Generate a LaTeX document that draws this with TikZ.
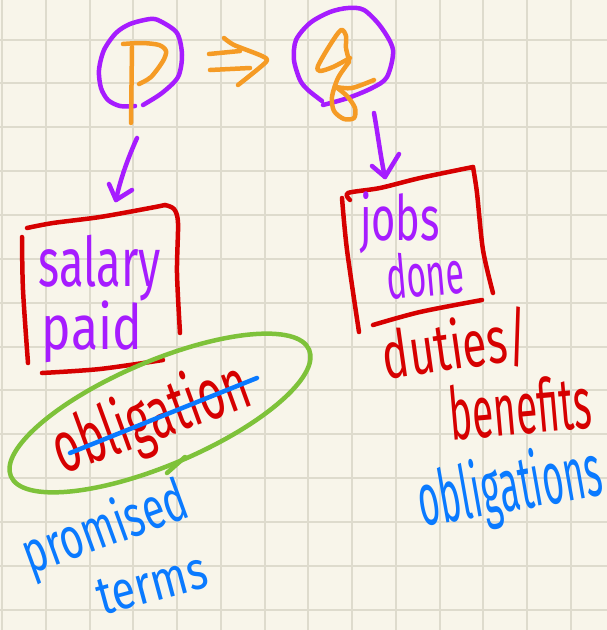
\documentclass[tikz,border=0pt]{standalone}
\usepackage{fontspec}
\setmainfont{Fira Sans}
\usepackage{graphicx}
\definecolor{bgc}{RGB}{248,245,234}
\definecolor{gridc}{RGB}{222,219,205}
\definecolor{pur}{RGB}{166,28,255}
\definecolor{ora}{RGB}{245,155,37}
\definecolor{rd}{RGB}{214,0,0}
\definecolor{blu}{RGB}{10,122,255}
\definecolor{grn}{RGB}{126,194,58}
\newcommand{\handtxt}[3]{\resizebox*{#1}{#2}{#3}}
\begin{document}
\begin{tikzpicture}[x=1pt,y=-1pt,line cap=round,line join=round,
  pen/.style={line width=4.5pt},
  hand/.style={inner sep=0pt,outer sep=0pt}]
\useasboundingbox (0,0) rectangle (607,630);
\fill[bgc] (0,0) rectangle (607,630);
\foreach \i in {0,...,13} \draw[gridc,line width=2pt] ({2+43.75*\i},0) -- ({2+43.75*\i},630);
\foreach \j in {0,...,14} \draw[gridc,line width=2pt] (0,{-4.3+43.85*\j}) -- (607,{-4.3+43.85*\j});

% P circle and P
\draw[pen,pur] plot[smooth] coordinates {(143,105) (162,93) (178,77) (182,55) (177,33) (160,21) (150,19) (130,24) (116,33) (104,50) (99,70) (101,88) (108,100) (120,106) (135,106)};
\draw[pen,ora] (132,47) -- (131,123);
\draw[pen,ora] plot[smooth] coordinates {(123,44) (142,43) (159,45) (166,51) (163,61) (151,77) (139,84)};

% implies
\draw[pen,ora] (209,54) -- (240,51);
\draw[pen,ora] (210,70) -- (250,68);
\draw[pen,ora] plot[smooth,tension=0.4] coordinates {(224,38) (234,45) (262,56) (266,62) (238,85)};

% Q circle and q
\draw[pen,pur] plot[smooth] coordinates {(322,101) (308,90) (300,80) (294,60) (296,40) (310,23) (330,12) (348,8) (364,10) (381,27) (393,50) (387,77) (372,88) (348,98) (323,105)};
\draw[pen,ora] plot[smooth] coordinates {(349,60) (346,48) (346,36) (341,30) (330,45) (318,66) (320,71) (333,67) (350,58)};
\draw[pen,ora] plot[smooth] coordinates {(349,62) (338,78) (332,97) (334,111) (344,119) (354,118) (355,108) (347,96) (336,87)};
\draw[pen,ora] plot[smooth] coordinates {(336,87) (352,88) (374,80)};

% arrows
\coordinate (Pbot) at (137,138);
\coordinate (SalTop) at (116,200);
\draw[pen,pur] (Pbot) .. controls (128,158) and (120,180) .. (SalTop);
\draw[pen,pur] (SalTop) ++(-7,-16) -- (SalTop) -- ++(16,-10);
\coordinate (Qbot) at (374,113);
\coordinate (JobTop) at (385,177);
\draw[pen,pur] (Qbot) .. controls (378,135) and (381,160) .. (JobTop);
\draw[pen,pur] (JobTop) ++(-13,-11) -- (JobTop) -- ++(14,-23);

% left box
\draw[pen,rd] plot[smooth] coordinates {(27,228) (53,223) (100,217) (150,208) (165,205)};
\draw[pen,rd] plot[smooth] coordinates {(165,205) (174,209) (178,223) (177,273) (180,333)};
\draw[pen,rd] plot[smooth] coordinates {(22,237) (23,290) (28,363)};
\draw[pen,rd] plot[smooth] coordinates {(42,373) (100,369) (163,360)};

% right box
\draw[pen,rd] plot[smooth] coordinates {(350,200) (348,193) (380,188) (420,178) (473,167)};
\draw[pen,rd] plot[smooth] coordinates {(473,167) (477,193) (483,250) (493,293)};
\draw[pen,rd] plot[smooth] coordinates {(342,198) (347,250) (359,332)};
\draw[pen,rd] plot[smooth] coordinates {(373,325) (420,312) (482,300)};

% texts
\node[hand,text=pur] (salary) at (100,268) {\handtxt{122pt}{66pt}{salary}};
\node[hand,text=pur] (paid) at (92,332) {\handtxt{100pt}{62pt}{paid}};
\node[hand,text=pur] (jobs) at (400,223) {\handtxt{80pt}{62pt}{jobs}};
\node[hand,text=pur,rotate=5] (done) at (425,274) {\handtxt{78pt}{46pt}{done}};
\node[hand,text=rd,rotate=20] (oblig) at (152,420) {\handtxt{205pt}{72pt}{obligation}};
\node[hand,text=rd,rotate=8] (duties) at (456,346) {\handtxt{148pt}{60pt}{duties/}};
\node[hand,text=rd,rotate=5] (benef) at (520,407) {\handtxt{142pt}{56pt}{benefits}};
\node[hand,text=blu,rotate=20] (promised) at (106,530) {\handtxt{172pt}{58pt}{promised}};
\node[hand,text=blu,rotate=15] (terms) at (152,584) {\handtxt{112pt}{36pt}{terms}};
\node[hand,text=blu,rotate=10] (obligs) at (510,490) {\handtxt{185pt}{74pt}{obligations}};

% strike and ellipse
\coordinate (strikeA) at (70,453);
\coordinate (strikeB) at (257,378);
\draw[pen,blu] (strikeA) -- (strikeB);
\coordinate (ellc) at (160,413);
\draw[pen,grn,rotate around={23:(ellc)}] (ellc) ellipse [x radius=162pt,y radius=52pt];
\draw[pen,grn] (167,473) -- (185,457);
\end{tikzpicture}
\end{document}
